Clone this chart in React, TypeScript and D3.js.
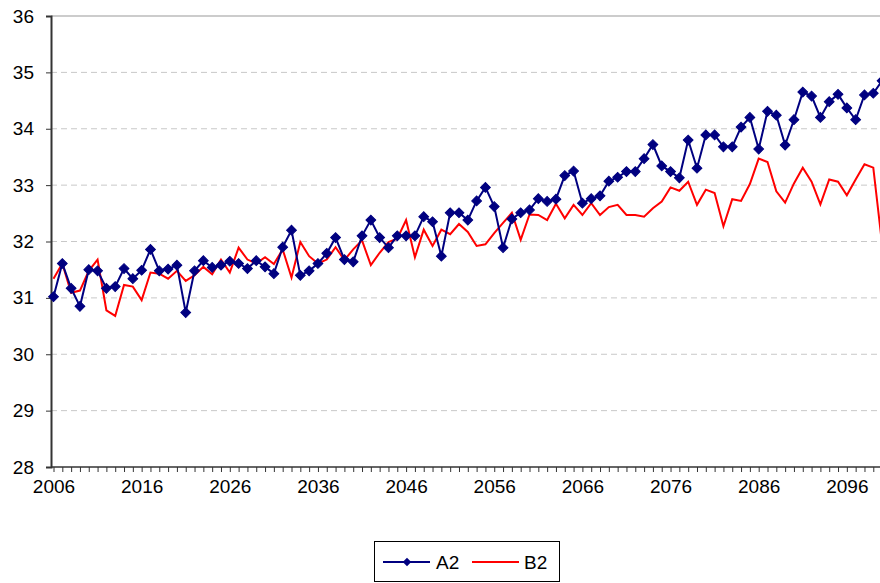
import { useEffect, useRef } from "react";
import * as d3 from "d3";

// years 2006..2100, one value per year
const years = d3.range(2006, 2101);

const a2 = [
  31.02, 31.61, 31.17, 30.85, 31.5, 31.48, 31.17, 31.2, 31.52, 31.34,
  31.49, 31.86, 31.48, 31.51, 31.58, 30.74, 31.48, 31.66, 31.54, 31.58,
  31.65, 31.61, 31.52, 31.66, 31.55, 31.43, 31.9, 32.2, 31.4, 31.48,
  31.61, 31.79, 32.07, 31.68, 31.64, 32.1, 32.38, 32.07, 31.89, 32.1,
  32.1, 32.1, 32.44, 32.35, 31.74, 32.51, 32.51, 32.38, 32.72, 32.96,
  32.62, 31.89, 32.4, 32.51, 32.56, 32.76, 32.71, 32.75, 33.17, 33.25,
  32.68, 32.76, 32.81, 33.07, 33.14, 33.24, 33.24, 33.47, 33.72, 33.34,
  33.24, 33.13, 33.8, 33.3, 33.89, 33.89, 33.68, 33.68, 34.03, 34.2,
  33.64, 34.31, 34.24, 33.71, 34.16, 34.65, 34.58, 34.2, 34.48, 34.61,
  34.37, 34.16, 34.6, 34.63, 34.85,
];

const b2 = [
  31.34, 31.61, 31.09, 31.13, 31.48, 31.68, 30.78, 30.68, 31.23, 31.2,
  30.96, 31.45, 31.43, 31.34, 31.48, 31.3, 31.4, 31.55, 31.42, 31.68,
  31.45, 31.89, 31.68, 31.61, 31.72, 31.6, 31.86, 31.36, 31.99, 31.74,
  31.61, 31.68, 31.9, 31.67, 31.86, 32.02, 31.58, 31.8, 31.99, 32.05,
  32.38, 31.72, 32.21, 31.92, 32.21, 32.13, 32.31, 32.17, 31.92, 31.95,
  32.15, 32.33, 32.51, 32.03, 32.48, 32.47, 32.38, 32.67, 32.41, 32.65,
  32.47, 32.68, 32.47, 32.61, 32.65, 32.47, 32.47, 32.44, 32.59, 32.71,
  32.96, 32.9, 33.06, 32.65, 32.92, 32.86, 32.27, 32.75, 32.72, 33.02,
  33.47, 33.41, 32.89, 32.69, 33.03, 33.31, 33.06, 32.66, 33.1, 33.06,
  32.82, 33.1, 33.37, 33.31, 31.95,
];

const yTicks = [28, 29, 30, 31, 32, 33, 34, 35, 36];
const xLabels = ["2006", "2016", "2026", "2036", "2046", "2056", "2066", "2076", "2086", "2096"];

export default function App() {
  const ref = useRef<SVGSVGElement>(null);

  useEffect(() => {
    const svg = d3.select(ref.current);
    svg.selectAll("*").remove();

    const font = "Arial, 'Liberation Sans', sans-serif";
    const x = d3.scaleLinear().domain([2006, 2100]).range([53.5, 882.1]);
    const y = d3.scaleLinear().domain([28, 36]).range([467, 16]);

    // gridlines
    svg
      .append("g")
      .selectAll("line")
      .data(yTicks.slice(1, -1))
      .enter()
      .append("line")
      .attr("x1", 51)
      .attr("x2", 880)
      .attr("y1", (d) => y(d))
      .attr("y2", (d) => y(d))
      .attr("stroke", "#c8c8c8")
      .attr("stroke-dasharray", "6,4");

    // top border
    svg
      .append("line")
      .attr("x1", 51)
      .attr("x2", 880)
      .attr("y1", y(36))
      .attr("y2", y(36))
      .attr("stroke", "#999");

    // y axis
    const yAxis = d3
      .axisLeft(y)
      .tickValues(yTicks)
      .tickSize(5)
      .tickPadding(12)
      .tickFormat(d3.format("d"));
    const gy = svg.append("g").attr("transform", "translate(51,0)").call(yAxis);
    gy.select(".domain").attr("stroke", "#333").attr("stroke-width", 2);
    gy.selectAll(".tick line").attr("stroke", "#333");
    gy.selectAll("text").attr("font-size", 19).attr("font-family", font).attr("fill", "#000");

    // x axis, tick per year
    const xAxis = d3
      .axisBottom(x)
      .tickValues(years)
      .tickSize(5)
      .tickPadding(8)
      .tickFormat((d) => (xLabels.includes(String(d)) ? String(d) : ""));
    const gx = svg.append("g").attr("transform", "translate(0,467)").call(xAxis);
    gx.select(".domain").attr("stroke", "#333").attr("stroke-width", 1.5).attr("d", "M51,0H882");
    gx.selectAll(".tick line").attr("stroke", "#333");
    gx.selectAll("text").attr("font-size", 19).attr("font-family", font).attr("fill", "#000");

    const line = d3
      .line<number>()
      .x((d, i) => x(years[i]))
      .y((d) => y(d));

    svg
      .append("path")
      .datum(b2)
      .attr("d", line)
      .attr("fill", "none")
      .attr("stroke", "#ff0000")
      .attr("stroke-width", 2);

    svg
      .append("path")
      .datum(a2)
      .attr("d", line)
      .attr("fill", "none")
      .attr("stroke", "#000080")
      .attr("stroke-width", 2);

    const diamond = d3.symbol().type(d3.symbolSquare).size(48);
    svg
      .append("g")
      .selectAll("path")
      .data(a2)
      .enter()
      .append("path")
      .attr("d", diamond)
      .attr("transform", (d, i) => "translate(" + x(years[i]) + "," + y(d) + ") rotate(45)")
      .attr("fill", "#000080")
      .attr("stroke", "#000080");

    // legend
    const lg = svg.append("g");
    lg.append("rect")
      .attr("x", 374.5)
      .attr("y", 541.5)
      .attr("width", 185)
      .attr("height", 40)
      .attr("fill", "#fff")
      .attr("stroke", "#000");
    lg.append("line")
      .attr("x1", 383)
      .attr("x2", 430)
      .attr("y1", 562)
      .attr("y2", 562)
      .attr("stroke", "#000080")
      .attr("stroke-width", 2);
    lg.append("path")
      .attr("d", d3.symbol().type(d3.symbolSquare).size(36))
      .attr("transform", "translate(407,562) rotate(45)")
      .attr("fill", "#000080");
    lg.append("text")
      .attr("x", 436)
      .attr("y", 569)
      .attr("font-size", 19)
      .attr("font-family", font)
      .text("A2");
    lg.append("line")
      .attr("x1", 472)
      .attr("x2", 519)
      .attr("y1", 562)
      .attr("y2", 562)
      .attr("stroke", "#ff0000")
      .attr("stroke-width", 2);
    lg.append("text")
      .attr("x", 524)
      .attr("y", 569)
      .attr("font-size", 19)
      .attr("font-family", font)
      .text("B2");
  }, []);

  return (
    <svg
      ref={ref}
      width={880}
      height={583}
      style={{ position: "absolute", left: 0, top: 0, background: "#fff" }}
    ></svg>
  );
}
